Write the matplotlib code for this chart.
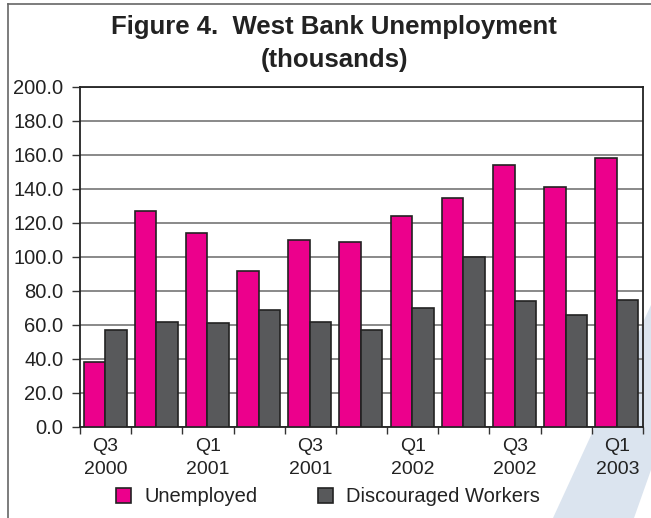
import matplotlib
matplotlib.use("Agg")
import matplotlib.pyplot as plt
import numpy as np
from matplotlib.patches import Polygon, Patch
from matplotlib.lines import Line2D

categories = ["Q3\n2000", "Q4\n2000", "Q1\n2001", "Q2\n2001", "Q3\n2001", "Q4\n2001",
              "Q1\n2002", "Q2\n2002", "Q3\n2002", "Q4\n2002", "Q1\n2003"]
unemployed = [38, 127, 114, 92, 110, 109, 124, 135, 154, 141, 158]
discouraged = [57, 62, 61, 69, 62, 57, 70, 100, 74, 66, 75]
series_names = ["Unemployed", "Discouraged Workers"]
yticks = [0, 20, 40, 60, 80, 100, 120, 140, 160, 180, 200]

W, H = 651, 518
plt.rcParams['font.family'] = ['Liberation Sans', 'DejaVu Sans']
fig = plt.figure(figsize=(W / 100, H / 100), dpi=100)

PINK = "#EC008C"
GRAY = "#58595B"
EDGE = "#222222"
TXT = "#222222"

def fc(x, y):
    return (x / W, 1 - y / H)

# decorative light-blue stripe (behind everything)
stripe = Polygon([fc(553, 518), fc(651, 305), fc(651, 470), fc(634, 518)],
                 closed=True, transform=fig.transFigure, facecolor="#dbe4ef",
                 edgecolor="none", zorder=-5)
fig.patches.append(stripe)

# figure border (left and top)
fig.lines.append(Line2D([8 / W, 8 / W], [0, 1 - 4 / H], transform=fig.transFigure,
                        color="#666666", lw=1.2, zorder=-4))
fig.lines.append(Line2D([8 / W, 1], [1 - 4 / H, 1 - 4 / H], transform=fig.transFigure,
                        color="#666666", lw=1.2, zorder=-4))

ax = fig.add_axes([80 / W, (H - 427) / H, (643 - 80) / W, (427 - 87) / H])
ax.set_zorder(2)
ax.patch.set_alpha(0)

n = len(categories)
x = np.arange(n)
bw = 0.42
ax.bar(x - bw / 2 - 0.01, unemployed, bw, color=PINK, edgecolor=EDGE, linewidth=1.2, zorder=3)
ax.bar(x + bw / 2 - 0.01, discouraged, bw, color=GRAY, edgecolor=EDGE, linewidth=1.2, zorder=3)

ax.set_xlim(-0.5, n - 0.5)
ax.set_ylim(0, 200)
ax.set_yticks(yticks)
ax.set_yticklabels([f"{v:.1f}" for v in yticks], fontsize=14.5, color=TXT)
ax.yaxis.grid(True, color="#808080", linewidth=1.3, zorder=1)
ax.set_axisbelow(True)

ax.set_xticks(np.arange(n + 1) - 0.5)
ax.set_xticklabels([])
ax.set_xticks(x, minor=True)
ax.set_xticklabels([c if i % 2 == 0 else "" for i, c in enumerate(categories)],
                   minor=True, fontsize=14, color=TXT, linespacing=1.45)
ax.tick_params(axis='x', which='minor', length=0, pad=8)
ax.tick_params(axis='x', which='major', length=5, width=1, color="#333333", direction='out')
ax.tick_params(axis='y', length=6, width=1, color="#333333", direction='out', pad=6)

for s in ["left", "bottom", "top", "right"]:
    ax.spines[s].set_color("#222222")
    ax.spines[s].set_linewidth(1.3)

fig.text(334 / W, 1 - 27 / H, "Figure 4.  West Bank Unemployment", ha="center", va="center",
         fontsize=18.5, fontweight="bold", color=TXT)
fig.text(334 / W, 1 - 60 / H, "(thousands)", ha="center", va="center",
         fontsize=18.5, fontweight="bold", color=TXT)

handles = [Patch(facecolor=PINK, edgecolor=EDGE, linewidth=1.2),
           Patch(facecolor=GRAY, edgecolor=EDGE, linewidth=1.2)]
fig.legend(handles, series_names, loc="center", bbox_to_anchor=(328 / W, 1 - 497 / H),
           ncol=2, frameon=False, fontsize=14.5, handlelength=0.75, handleheight=0.75,
           handletextpad=0.65, columnspacing=3.0, labelcolor=TXT, borderpad=0)

fig.savefig("out.png", dpi=100)
